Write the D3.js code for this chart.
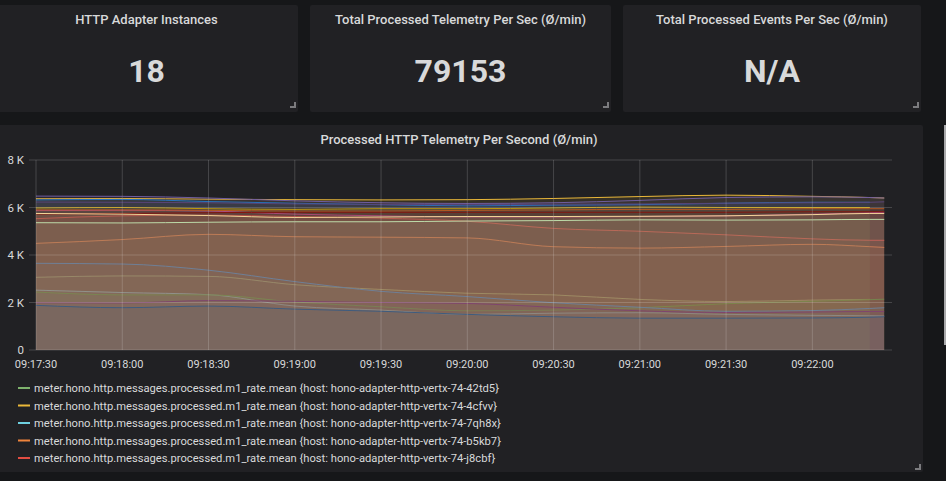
<!DOCTYPE html>
<html>
<head>
<meta charset="utf-8">
<script src="https://cdn.jsdelivr.net/npm/d3@7"></script>
<style>
  body { margin: 0; background: #161719; overflow: hidden; }
  text { font-family: Roboto, "Noto Sans", sans-serif; }
</style>
</head>
<body>
<div class="canvas"></div>
<script>
// stat panels
const statTitles = ["HTTP Adapter Instances", "Total Processed Telemetry Per Sec (Ø/min)", "Total Processed Events Per Sec (Ø/min)"];
const statValues = ["18", "79153", "N/A"];

// graph panel
const graphTitle = "Processed HTTP Telemetry Per Second (Ø/min)";
const times = ["09:17:30", "09:18:00", "09:18:30", "09:19:00", "09:19:30", "09:20:00",
  "09:20:30", "09:21:00", "09:21:30", "09:22:00", "09:22:20", "09:22:25"];
const xTicks = ["09:17:30", "09:18:00", "09:18:30", "09:19:00", "09:19:30", "09:20:00",
  "09:20:30", "09:21:00", "09:21:30", "09:22:00"];
const yTicks = [0, 2000, 4000, 6000, 8000];

const metric = "meter.hono.http.messages.processed.m1_rate.mean";
const hosts = ["hono-adapter-http-vertx-74-42td5", "hono-adapter-http-vertx-74-4cfvv",
  "hono-adapter-http-vertx-74-7qh8x", "hono-adapter-http-vertx-74-b5kb7", "hono-adapter-http-vertx-74-j8cbf"];

// grafana classic palette, in series order
const colors = ["#7EB26D", "#EAB839", "#6ED0E0", "#EF843C", "#E24D42", "#1F78C1", "#BA43A0", "#705DA0", "#508642",
  "#CCA300", "#447EBC", "#C15C17", "#890F02", "#0A437C", "#6D1F62", "#584477", "#B7DBAB", "#F4D598"];

// one row per adapter, values per time above (null = no sample)
const s0 = [3060, 3120, 3100, 2750, 2550, 2390, 2320, 2130, 2040, 2100, 2130, null];
const s1 = [6370, 6380, 6350, 6330, 6320, 6330, 6380, 6460, 6520, 6470, 6420, 6400];
const s2 = [2520, 2420, 2330, 1850, 1680, 1500, 1550, 1570, 1500, 1460, 1440, 1430];
const s3 = [4490, 4650, 4870, 4770, 4750, 4720, 4350, 4290, 4360, 4450, 4350, 4320];
const s4 = [5530, 5650, 5680, 5620, 5550, 5420, 5120, 5000, 4850, 4680, 4620, 4620];
const s5 = [6320, 6340, 6250, 6180, 6120, 6070, 6100, 6120, 6180, 6220, 6220, null];
const s6 = [5870, 5880, 5850, 5720, 5650, 5600, 5600, 5620, 5650, 5720, 5780, 5800];
const s7 = [6480, 6470, 6400, 6280, 6200, 6170, 6200, 6300, 6420, 6450, 6420, 6400];
const s8 = [2440, 2320, 2320, 2020, 1820, 1650, 1680, 1780, 1950, 2050, 2120, 2140];
const s9 = [5980, 6000, 5950, 5920, 5950, 5950, 5980, 6020, 6000, 6000, 6000, null];
const s10 = [3650, 3620, 3360, 2880, 2470, 2250, 1990, 1800, 1630, 1660, 1750, 1780];
const s11 = [5900, 5900, 5880, 5850, 5850, 5880, 5900, 5920, 5920, 5950, 5950, 5950];
const s12 = [5720, 5750, 5780, 5800, 5800, 5800, 5800, 5800, 5800, 5820, 5820, 5820];
const s13 = [1880, 1780, 1850, 1720, 1630, 1500, 1400, 1340, 1340, 1350, 1380, 1400];
const s14 = [1990, 1980, 2080, 2050, 2000, 1960, 1800, 1650, 1580, 1600, 1620, 1620];
const s15 = [6230, 6220, 6200, 6150, 6130, 6120, 6140, 6150, 6180, 6200, 6220, 6240];
const s16 = [5360, 5350, 5380, 5400, 5400, 5430, 5450, 5480, 5470, 5480, 5500, 5500];
const s17 = [5750, 5720, 5660, 5580, 5600, 5620, 5620, 5630, 5650, 5700, 5750, 5750];
const series = [s0, s1, s2, s3, s4, s5, s6, s7, s8, s9, s10, s11, s12, s13, s14, s15, s16, s17];

const w = 946, h = 481;
const svg = d3.select(".canvas").append("svg").attr("width", w).attr("height", h);

// stat panels
const statPanels = [{ x: -5, w: 303 }, { x: 310, w: 301 }, { x: 623, w: 298 }];
statPanels.forEach((p, i) => {
  const g = svg.append("g").attr("transform", `translate(${p.x}, 5)`);
  g.append("rect").attr("width", p.w).attr("height", 107).attr("rx", 2).attr("fill", "#212124");
  g.append("text").attr("x", p.w / 2).attr("y", 19).attr("text-anchor", "middle")
    .attr("font-size", 13).attr("font-weight", 500).attr("fill", "#d8d9da").text(statTitles[i]);
  g.append("text").attr("x", p.w / 2).attr("y", 77).attr("text-anchor", "middle")
    .attr("font-size", 32).attr("font-weight", 700).attr("fill", "#d8d9da").text(statValues[i]);
  g.append("path").attr("d", `M${p.w - 8},${102}H${p.w - 3}V${97}`)
    .attr("stroke", "#7b7b7e").attr("stroke-width", 2).attr("fill", "none");
});

// graph panel
const gp = { x: -5, y: 125, w: 928, h: 347 };
svg.append("rect").attr("x", gp.x).attr("y", gp.y).attr("width", gp.w).attr("height", gp.h)
  .attr("rx", 2).attr("fill", "#212124");
svg.append("path").attr("d", `M${gp.x + gp.w - 8},${gp.y + gp.h - 3}H${gp.x + gp.w - 3}V${gp.y + gp.h - 8}`)
  .attr("stroke", "#7b7b7e").attr("stroke-width", 2).attr("fill", "none");
svg.append("text").attr("x", gp.x + gp.w / 2).attr("y", 144).attr("text-anchor", "middle")
  .attr("font-size", 13).attr("font-weight", 500).attr("fill", "#d8d9da").text(graphTitle);
// scrollbar strip at the right
svg.append("rect").attr("x", 944).attr("y", 125).attr("width", 2).attr("height", 220).attr("fill", "#a9a9ab");

const parse = d3.timeParse("%H:%M:%S");
const tDates = times.map(parse);
const xScale = d3.scaleTime()
  .domain([parse("09:17:30"), new Date(parse("09:22:27").getTime() + 700)])
  .range([36, 892]);
const yScale = d3.scaleLinear().domain([0, 8000]).range([350, 160]);

const area = d3.area()
  .defined(d => d.v != null)
  .x(d => xScale(d.t)).y0(yScale(0)).y1(d => yScale(d.v))
  .curve(d3.curveMonotoneX);
const line = d3.line()
  .defined(d => d.v != null)
  .x(d => xScale(d.t)).y(d => yScale(d.v))
  .curve(d3.curveMonotoneX);

const rows = series.map(s => s.map((v, i) => ({ t: tDates[i], v })));

// each series: fill, then its line (later fills veil earlier lines)
const plot = svg.append("g");
const sg = plot.selectAll("g.series").data(rows).enter().append("g").attr("class", "series");
sg.append("path")
  .attr("d", area)
  .attr("fill", (d, i) => colors[i])
  .attr("fill-opacity", 0.1);
sg.append("path")
  .attr("d", line)
  .attr("fill", "none")
  .attr("stroke", (d, i) => colors[i])
  .attr("stroke-width", 1);

// grid drawn above data, like the original
const grid = svg.append("g");
grid.selectAll("line.h").data(yTicks).enter().append("line")
  .attr("x1", 29).attr("x2", 892)
  .attr("y1", d => yScale(d)).attr("y2", d => yScale(d))
  .attr("stroke", "#ffffff").attr("stroke-opacity", 0.17);
grid.selectAll("line.v").data(xTicks).enter().append("line")
  .attr("x1", d => xScale(parse(d))).attr("x2", d => xScale(parse(d)))
  .attr("y1", yScale(8000)).attr("y2", yScale(0))
  .attr("stroke", "#ffffff").attr("stroke-opacity", 0.17);

// axes labels
svg.selectAll("text.ylab").data(yTicks).enter().append("text")
  .attr("x", 24).attr("y", d => yScale(d) + 4)
  .attr("text-anchor", "end").attr("font-size", 11.5).attr("fill", "#d8d9da")
  .text(d => d === 0 ? "0" : (d / 1000) + " K");
svg.selectAll("text.xlab").data(xTicks).enter().append("text")
  .attr("x", d => xScale(parse(d))).attr("y", 368)
  .attr("text-anchor", "middle").attr("font-size", 11).attr("fill", "#d8d9da")
  .text(d => d);

// legend
const legend = svg.append("g");
hosts.forEach((host, i) => {
  const y = 388 + i * 17.5;
  legend.append("rect").attr("x", 18).attr("y", y - 1).attr("width", 12).attr("height", 2).attr("fill", colors[i]);
  legend.append("text").attr("x", 34).attr("y", y + 4).attr("font-size", 11.2).attr("fill", "#d8d9da")
    .text(`${metric} {host: ${host}}`);
});
</script>
</body>
</html>
